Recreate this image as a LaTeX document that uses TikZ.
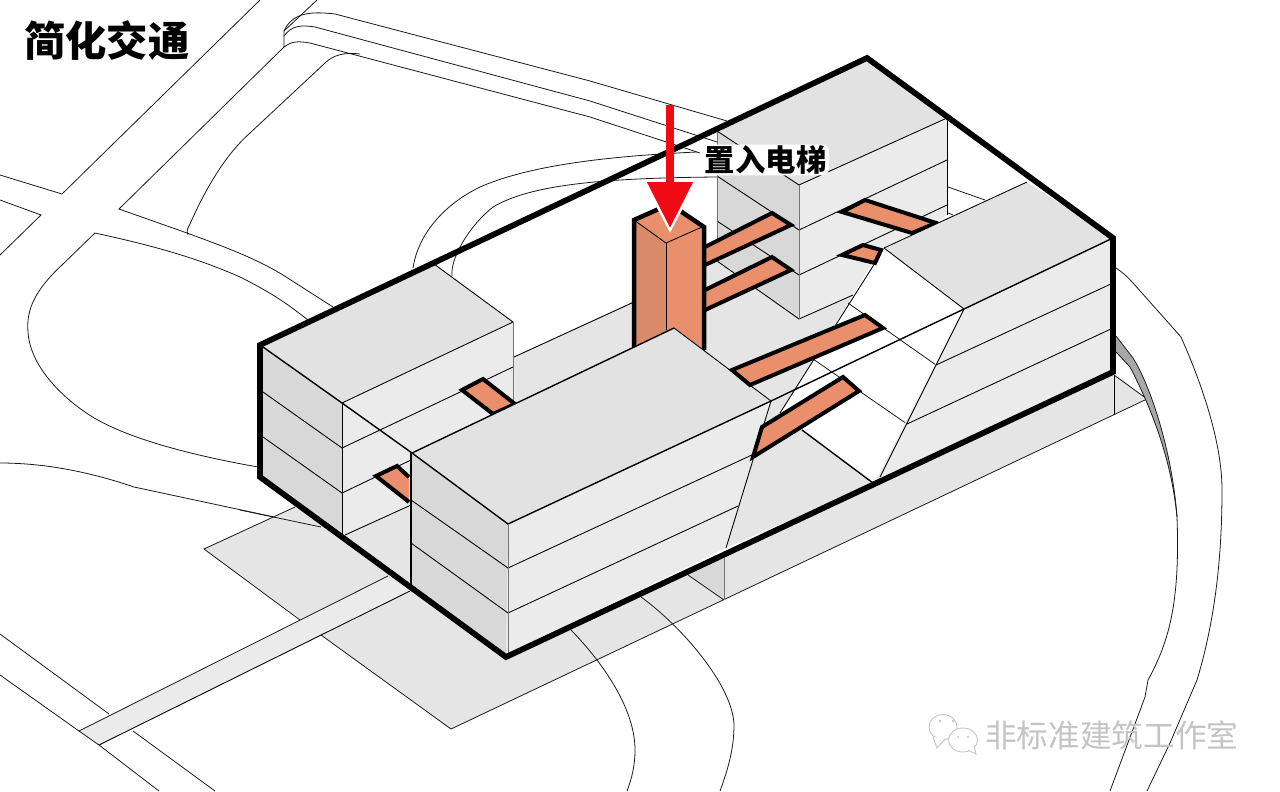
\documentclass[tikz,border=0pt]{standalone}
\usepackage{fontspec}
\usepackage{xcolor}
\usetikzlibrary{arrows.meta}
\newfontfamily\cjk{Noto Sans CJK SC}
\definecolor{topgray}{HTML}{E2E2E2}
\definecolor{litgray}{HTML}{EBEBEB}
\definecolor{sidegray}{HTML}{D8D8D8}
\definecolor{plazagray}{HTML}{E5E5E5}
\definecolor{slivergray}{HTML}{A8A8A8}
\definecolor{coreleft}{HTML}{D98A66}
\definecolor{coreright}{HTML}{E98F6B}
\definecolor{embossgray}{HTML}{C4C4C4}
\definecolor{arrowred}{HTML}{F00A14}

\begin{document}
\begin{tikzpicture}[
  x=0.02cm,y=-0.02cm,
  site/.style={line width=0.45pt,black!90},
  edge/.style={line width=0.5pt,black},
  hard/.style={line width=0.8pt,black},
  soft/.style={line width=0.45pt,black!55},
  topface/.style={fill=topgray},
  litface/.style={fill=litgray},
  sideface/.style={fill=sidegray},
  bridge/.style={fill=coreright,draw=black,line width=0.08cm,line join=miter},
  outline/.style={draw=black,line width=0.115cm,line join=miter},
  arr/.style={-{Triangle[length=0.92cm,width=0.88cm]},line width=0.16cm,draw=arrowred},
  halo/.style={-{Triangle[length=0.98cm,width=0.98cm]},line width=0.16cm,draw=white}
]
\fill[white] (0,0) rectangle (1280,791);
\useasboundingbox (0,0) rectangle (1280,791);

% site lines
\draw[site] (0,175) -- (62,194) -- (260,0);
\draw[site] (0,200) -- (41,215) -- (0,255);
\draw[site] (317,0) -- (284,31) -- (284,47) -- (119,209) -- (187,233) .. controls (225,247) and (255,258) .. (283,275) -- (333,307);
\draw[site] (308,320) .. controls (285,302) and (270,292) .. (240,277) .. controls (195,257) and (150,245) .. (95,233) -- (62,265) .. controls (35,290) and (26,310) .. (28,332) .. controls (30,365) and (60,395) .. (85,412) .. controls (120,437) and (190,455) .. (258,467);
\draw[site] (284,31) .. controls (292,13) and (310,11) .. (335,14) -- (590,81) -- (727,121);
\draw[site] (284,36) .. controls (292,25) and (302,25) .. (315,27) -- (590,101) -- (717,142);
\draw[site] (284,47) .. controls (292,41) and (298,41) .. (310,43) -- (590,117) -- (700,153);
\draw[site] (188,235) .. controls (186,230) and (188,228) .. (190,224) .. controls (205,190) and (225,155) .. (250,133) -- (325,63) .. controls (333,55) and (345,52) .. (360,54);
\draw[site] (413,268) .. controls (418,235) and (443,205) .. (480,187) .. controls (530,165) and (610,156) .. (697,152);
\draw[site] (452,276) .. controls (450,258) and (470,225) .. (493,207) .. controls (530,185) and (600,178) .. (717,177);
\draw[site] (0,463) .. controls (45,463) and (90,472) .. (134,487) -- (321,527);
\draw[site] (0,634) -- (109,714);
\draw[site] (0,675) -- (79,731);
\draw[site] (99,745) -- (159,791);
\draw[site] (133,731) -- (215,791);
\draw[site] (948,187) -- (985,200);
\draw[site] (948,213) -- (953,215);
\draw[site] (1116,268) .. controls (1122,272) and (1128,277) .. (1133,283) -- (1181,337) .. controls (1200,380) and (1222,440) .. (1222,490) .. controls (1222,570) and (1212,630) .. (1197,680) -- (1170,743) -- (1147,791);

% plaza
\fill[plazagray] (204,549) -- (295,507) -- (342,535) -- (411,505) -- (411,585) -- (506,657) -- (723,555) -- (873,483) -- (1113,372) -- (1147,399) -- (451,729) -- cycle;
\draw[site] (295,507) -- (204,549) -- (300,620);
\draw[site] (321,635) -- (451,729) -- (1147,399);
\draw[site] (240,510) -- (321,527);
\fill[sidegray] (688,575) -- (724,558) -- (724,600) -- cycle;
\draw[soft] (724,558) -- (724,600);
\draw[site] (688,575) -- (724,600);
\draw[edge] (1114,375) -- (1114,415);
\draw[site] (1114,375) -- (1147,399);

% curves on the plaza
\draw[site] (571,630) .. controls (605,665) and (635,710) .. (635,750) .. controls (635,765) and (632,778) .. (627,791);
\draw[site] (641,597) .. controls (680,625) and (733,685) .. (734,725) .. controls (734,750) and (727,772) .. (720,791);

% walkway
\fill[litgray] (79,731) -- (388,576) -- (410,591) -- (99,745) -- cycle;
\draw[site] (99,745) -- (79,731) -- (388,576);
\draw[edge] (99,745) -- (410,591);

% sliver on the east side
\fill[slivergray] (1116,336) -- (1133,358) .. controls (1150,385) and (1172,450) .. (1177,517) .. controls (1172,465) and (1155,415) .. (1130,367) -- (1116,352) -- cycle;
\draw[site] (1116,336) -- (1133,358) .. controls (1150,385) and (1172,450) .. (1177,517) .. controls (1180,600) and (1170,640) .. (1148,680) -- (1145,697) -- (1110,791);
\draw[site] (1116,352) -- (1130,367) .. controls (1155,415) and (1172,465) .. (1177,517);

% court ground
\fill[plazagray] (514,357) -- (717,262) -- (799,319) -- (853,295) -- (780,413) -- (771,401) -- (674,328) -- (515,404) -- cycle;
\fill[plazagray] (771,401) -- (780,413) -- (802,430) -- (873,483) -- (726,548) -- cycle;
\draw[edge] (514,357) -- (634,302);
\draw[edge] (875,263) -- (780,413);
\draw[site] (848,303) -- (936,365);
\draw[site] (813,359) -- (907,424);
\draw[hard] (802,430) -- (873,483);
\draw[hard] (771,401) -- (964,309);

% back block
\fill[sideface] (717,131) -- (799,185) -- (799,319) -- (717,261) -- cycle;
\fill[litface] (799,185) -- (947,118) -- (947,215) -- (880,250) -- (853,295) -- (799,319) -- cycle;
\fill[topface] (717,131) -- (867,58) -- (947,118) -- (799,185) -- cycle;
\draw[edge] (717,131) -- (799,185) -- (947,118);
\draw[edge] (717,176) -- (799,230) -- (947,160);
\draw[edge] (717,221) -- (799,275) -- (947,205);
\draw[edge] (717,261) -- (799,319) -- (853,295);
\draw[soft] (717,131) -- (717,261);
\draw[soft] (799,185) -- (799,319);
\draw[edge] (947,118) -- (947,215);

% bridges behind the core
\filldraw[bridge] (705,247) -- (772,213) -- (791,225) -- (705,265);
\filldraw[bridge] (705,290) -- (772,257) -- (791,270) -- (705,310);
\filldraw[bridge] (842,212) -- (865,200) -- (936,223) -- (912,233) -- cycle;
\filldraw[bridge] (842,255) -- (863,245) -- (881,250) -- (875,263) -- cycle;

% core
\fill[coreleft] (634,220) -- (666,243) -- (666,345) -- (634,347) -- cycle;
\fill[coreright] (666,243) -- (704,227) -- (704,348) -- (666,345) -- cycle;
\fill[coreright] (634,220) -- (670,205) -- (704,227) -- (666,243) -- cycle;
\draw[edge] (634,220) -- (666,243) -- (702,227);
\draw[edge] (666,243) -- (666,330);
\draw[outline,line width=0.09cm] (634,347) -- (634,220) -- (670,204) -- (704,227) -- (704,350);

% right block
\fill[topface] (884,248) -- (1027,182) -- (1113,238) -- (964,309) -- cycle;
\fill[litface] (964,309) -- (1113,238) -- (1113,372) -- (873,485) -- cycle;
\draw[edge] (884,248) -- (1027,182);
\draw[edge] (884,248) -- (964,309);
\draw[hard] (964,309) -- (1113,238);
\draw[edge] (964,309) -- (880,477);
\draw[edge] (936,365) -- (1113,283);
\draw[edge] (907,424) -- (1113,328);

% left block
\fill[topface] (263,347) -- (434,264) -- (513,322) -- (342,403) -- cycle;
\fill[sideface] (263,347) -- (342,403) -- (342,535) -- (263,477) -- cycle;
\fill[litface] (342,403) -- (513,322) -- (515,404) -- (411,453) -- (411,505) -- (342,535) -- cycle;
\draw[edge] (434,264) -- (513,322) -- (342,403);
\draw[hard] (263,347) -- (342,403) -- (412,453);
\draw[edge] (263,392) -- (342,448) -- (513,367);
\draw[edge] (263,437) -- (342,493) -- (411,460);
\draw[edge] (345,535) -- (411,505);
\draw[edge] (342,403) -- (342,535);
\draw[soft] (513,322) -- (513,403);
\filldraw[bridge] (462,390) -- (483,379) -- (515,404) -- (493,414) -- cycle;
\filldraw[bridge] (409,477) -- (397,466) -- (376,476) -- (409,502);

% front block
\fill[topface] (412,453) -- (674,328) -- (771,401) -- (508,524) -- cycle;
\fill[sideface] (412,453) -- (508,524) -- (508,655) -- (411,585) -- cycle;
\fill[litface] (508,524) -- (771,401) -- (726,548) -- (506,655) -- cycle;
\draw[hard] (412,453) -- (674,328);
\draw[edge] (674,328) -- (771,401);
\draw[hard] (771,401) -- (508,524) -- (412,453);
\draw[edge] (411,500) -- (508,568) -- (754,454);
\draw[edge] (411,543) -- (508,613) -- (738,506);
\draw[hard] (411,453) -- (411,585);
\draw[soft] (508,524) -- (508,655);
\draw[edge] (771,401) -- (726,548);

% bridges in front
\filldraw[bridge] (732,370) -- (865,315) -- (883,328) -- (750,385) -- cycle;
\filldraw[bridge] (753,457) -- (762,427) -- (843,377) -- (859,391) -- cycle;

% outer frame
\draw[outline] (260,345) -- (867,58) -- (1113,238) -- (1113,372) -- (506,657) -- (260,477) -- cycle;

% arrow
\coordinate (arrowtop) at (670,105);
\coordinate (arrowtip) at (670,228);
\coordinate (halotip) at (670,233);
\draw[halo] (arrowtop) -- (halotip);
\draw[arr] (arrowtop) -- (arrowtip);

% texts
\node[anchor=west,inner sep=0pt,font=\fontsize{23.5pt}{23.5pt}\selectfont\cjk\bfseries] (title) at (24,41) {简化交通};
\node[anchor=west,fill=white,rounded corners=4pt,inner xsep=1.5pt,inner ysep=0.5pt,font=\fontsize{17.3pt}{17.3pt}\selectfont\cjk\bfseries] (elevator) at (702,160) {置入电梯};

% watermark
\filldraw[draw=embossgray,fill=white,line width=0.5pt] (943,727) ellipse [x radius=14,y radius=12.5];
\draw[embossgray,fill=white,line width=0.5pt] (933,737) -- (937,748) -- (945,739);
\filldraw[draw=embossgray,fill=white,line width=0.5pt] (963,740) ellipse [x radius=14.5,y radius=12];
\draw[embossgray,fill=white,line width=0.5pt] (968,750) -- (976,754) -- (974,746);
\fill[embossgray] (940,721) circle (1.4) (953,721) circle (1.4) (958,737) circle (1.2) (968,737) circle (1.2);
\node[anchor=west,inner sep=0pt,font=\fontsize{18pt}{18pt}\selectfont\cjk,text=embossgray] (mark) at (985,735) {非标准建筑工作室};
\end{tikzpicture}
\end{document}
